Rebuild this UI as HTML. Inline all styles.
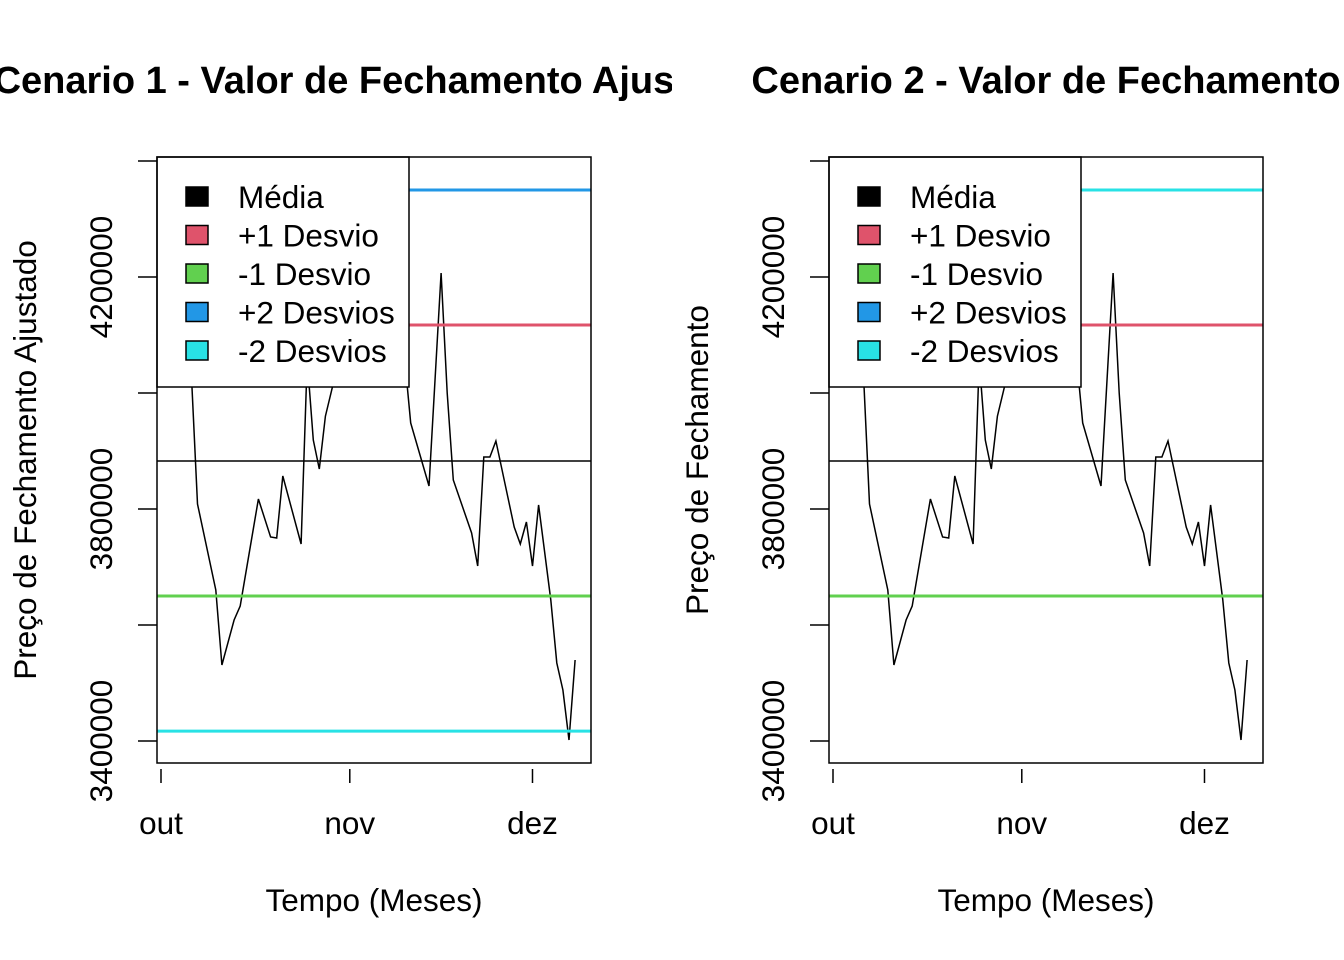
<!DOCTYPE html>
<html><head><meta charset="utf-8"><style>
html,body{margin:0;padding:0;background:#fff}
svg{display:block;font-family:"Liberation Sans",Arial,sans-serif}
</style></head><body>
<svg id="chart" width="1344" height="960" viewBox="0 0 1344 960" xmlns="http://www.w3.org/2000/svg">
<defs>
<clipPath id="clipL"><rect x="0" y="0" width="672" height="960"/></clipPath>
<clipPath id="clipR"><rect x="672" y="0" width="672" height="960"/></clipPath>
</defs>
</svg>
<script>
const days = [5,6,9,10,12,13,16,18,19,20,23,24,25,26,27,30,31,32,33,34,37,38,39,40,41,44,46,47,48,51,52,53,54,55,58,59,60,61,62,64,65,66,67,68];
const closeValues = [4031000,3808600,3660400,3531000,3608600,3632800,3817300,3751700,3750000,3856900,3739700,4056900,3919000,3869000,3960000,4091000,4065000,4108600,4074000,4083000,4057000,4091000,4040000,4060000,3948300,3839700,4206900,4000000,3850000,3758600,3701700,3889700,3889700,3917200,3769000,3739700,3777600,3701700,3806900,3643100,3534500,3488000,3401700,3539700];
const levelNames = ["Média","+1 Desvio","-1 Desvio","+2 Desvios","-2 Desvios"];
const levelColors = ["#000000","#DF536B","#61D04F","#2297E6","#28E2E5"];
const levelValues = [3882759,4117241,3650000,4350000,3417000];
const yTicks = [4400000,4200000,4000000,3800000,3600000,3400000];
const yTickLabels = ["4200000","3800000","3400000"];
const xTickDays = [0,31,61];
const xTickLabels = ["out","nov","dez"];
const titles = ["Cenario 1 - Valor de Fechamento Ajustado","Cenario 2 - Valor de Fechamento"];
const yTitles = ["Preço de Fechamento Ajustado","Preço de Fechamento"];

const NS="http://www.w3.org/2000/svg";
const svg=document.getElementById('chart');
function mk(tag,attrs,parent){const e=document.createElementNS(NS,tag);for(const k in attrs)e.setAttribute(k,attrs[k]);(parent||svg).appendChild(e);return e;}

function panel(p){
  const off=p*672;
  const L=157+off,T=157,R=591+off,B=763;
  const xs=d=>161+off+d*6.09;
  const ys=v=>277+(4200000-v)/200000*116;
  const g=mk('g',{'clip-path':p?'url(#clipR)':'url(#clipL)'});
  
  
  const t=mk('text',{x:374+off,y:93,'text-anchor':'middle','font-size':38,'font-weight':'bold'},g);
  t.textContent=titles[p];
  
  
  const pts=days.map((d,i)=>xs(d).toFixed(1)+','+ys(closeValues[i]).toFixed(1)).join(' ');
  const line=mk('polyline',{points:pts,fill:'none',stroke:'#000','stroke-width':1.5},g);
  
  
  levelValues.forEach((v,i)=>{
    let col=levelColors[i];
    if(p===1&&i===3) col=levelColors[4];
    if(p===1&&i===4) return;
    const l=mk('line',{x1:L,x2:R,y1:ys(v),y2:ys(v),stroke:col,'stroke-width':i===0?1.5:3},g);
    
    
  });
  const lg=mk('g',{},g);
  
  
  mk('rect',{x:L,y:T,width:252,height:230,fill:'#fff',stroke:'#000','stroke-width':1.5},lg);
  levelNames.forEach((n,i)=>{
    const cy=197+i*38.5;
    const r=mk('rect',{x:L+29,y:cy-10,width:22,height:19,fill:levelColors[i],stroke:'#000','stroke-width':1.5},lg);
    
    
    const tx=mk('text',{x:L+81,y:cy+11,'font-size':31.5},lg);
    tx.textContent=n;
    
    
  });
  mk('rect',{x:L,y:T,width:R-L,height:B-T,fill:'none',stroke:'#000','stroke-width':1.5},g);
  yTicks.forEach(v=>mk('line',{x1:L-19,x2:L,y1:ys(v),y2:ys(v),stroke:'#000','stroke-width':1.5},g));
  yTickLabels.forEach(s=>{
    const y=ys(+s);
    const tx=mk('text',{x:0,y:0,'font-size':31.5,'text-anchor':'middle',transform:`translate(${112+off},${y}) rotate(-90)`},g);
    tx.textContent=s;
    
    
  });
  xTickDays.forEach((d,i)=>{
    mk('line',{x1:xs(d),x2:xs(d),y1:B+6,y2:B+20,stroke:'#000','stroke-width':1.5},g);
    const tx=mk('text',{x:xs(d),y:834,'font-size':31.5,'text-anchor':'middle'},g);
    tx.textContent=xTickLabels[i];
    
    
  });
  const xt=mk('text',{x:374+off,y:911,'font-size':31.5,'text-anchor':'middle'},g);
  xt.textContent='Tempo (Meses)';
  
  
  const yt=mk('text',{x:0,y:0,'font-size':31.5,'text-anchor':'middle',transform:`translate(${36+off},460) rotate(-90)`},g);
  yt.textContent=yTitles[p];
  
  
}
panel(0);panel(1);
</script>
</body></html>
